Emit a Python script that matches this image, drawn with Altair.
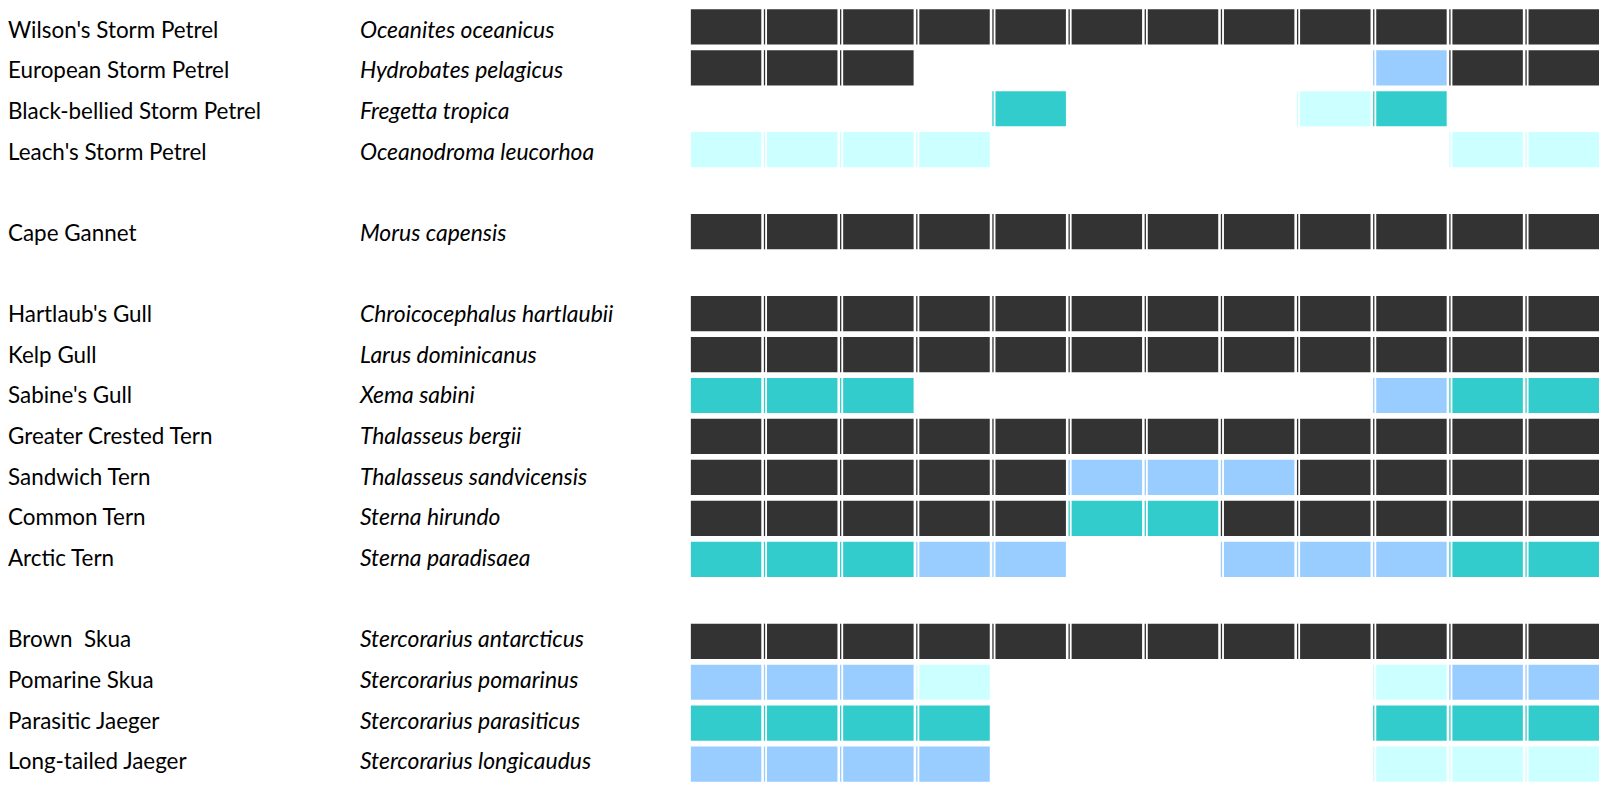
import altair as alt
import pandas as pd

months = ["Jan", "Feb", "Mar", "Apr", "May", "Jun", "Jul", "Aug", "Sep", "Oct", "Nov", "Dec"]

common_names = [
    "Wilson's Storm Petrel", "European Storm Petrel", "Black-bellied Storm Petrel",
    "Leach's Storm Petrel", "Cape Gannet", "Hartlaub's Gull", "Kelp Gull",
    "Sabine's Gull", "Greater Crested Tern", "Sandwich Tern", "Common Tern",
    "Arctic Tern", "Brown\u00a0 Skua", "Pomarine Skua", "Parasitic Jaeger", "Long-tailed Jaeger",
]
scientific_names = [
    "Oceanites oceanicus", "Hydrobates pelagicus", "Fregetta tropica",
    "Oceanodroma leucorhoa", "Morus capensis", "Chroicocephalus hartlaubii",
    "Larus dominicanus", "Xema sabini", "Thalasseus bergii", "Thalasseus sandvicensis",
    "Sterna hirundo", "Sterna paradisaea", "Stercorarius antarcticus",
    "Stercorarius pomarinus", "Stercorarius parasiticus", "Stercorarius longicaudus",
]
# group each species belongs to (a blank row separates groups)
groups = [1, 1, 1, 1, 2, 3, 3, 3, 3, 3, 3, 3, 4, 4, 4, 4]

# monthly status per species: D = dark, T = teal, B = blue, C = pale cyan, . = absent
status = [
    "DDDDDDDDDDDD",
    "DDD......BDD",
    "....T...CT..",
    "CCCC......CC",
    "DDDDDDDDDDDD",
    "DDDDDDDDDDDD",
    "DDDDDDDDDDDD",
    "TTT......BTT",
    "DDDDDDDDDDDD",
    "DDDDDBBBDDDD",
    "DDDDDTTDDDDD",
    "TTTBB..BBBTT",
    "DDDDDDDDDDDD",
    "BBBC.....CBB",
    "TTTT.....TTT",
    "BBBB.....CCC",
]
status_codes = ["D", "T", "B", "C"]
status_colors = ["#333333", "#33CCCC", "#99CCFF", "#CCFFFF"]

# row order with blank spacer rows between groups
row_domain = []
prev = None
blank = 0
for name, g in zip(common_names, groups):
    if prev is not None and g != prev:
        blank += 1
        row_domain.append(" " * blank)
    row_domain.append(name)
    prev = g

names_df = pd.DataFrame({"common": common_names, "sci": scientific_names})
cells = []
for name, codes in zip(common_names, status):
    for i, (m, c) in enumerate(zip(months, codes)):
        if c != ".":
            cells.append({"common": name, "month": m, "mi": i + 1, "code": c})
cells_df = pd.DataFrame(cells)

H = 775
PAD_Y = 0.14
step_y = H / (len(row_domain) - PAD_Y)
cell_h = step_y * (1 - PAD_Y)

yscale = alt.Scale(domain=row_domain, paddingInner=PAD_Y, paddingOuter=0)
ycode = alt.Y("common:N", scale=yscale, axis=None)

FONT = "Lato"

names_panel = alt.Chart(names_df).mark_text(
    align="left", baseline="middle", dy=1, font=FONT, fontSize=22.5, color="#000000"
).encode(x=alt.value(0), y=ycode, text="common:N").properties(width=353, height=H)

sci_panel = alt.Chart(names_df).mark_text(
    align="left", baseline="middle", dy=1, font=FONT, fontSize=23, fontStyle="italic", color="#000000"
).encode(x=alt.value(0), y=ycode, text="sci:N").properties(width=332, height=H)

xscale = alt.Scale(domain=months, paddingInner=0.075, paddingOuter=0)
color = alt.Color("code:N", scale=alt.Scale(domain=status_codes, range=status_colors), legend=None)

base = alt.Chart(cells_df)
rects = base.mark_rect().encode(
    x=alt.X("month:N", scale=xscale, axis=None),
    y=ycode,
    color=color,
)
seps = base.transform_filter(alt.datum.mi > 1).mark_tick(
    orient="vertical", thickness=1.3, size=cell_h, xOffset=-2.5
).encode(
    x=alt.X("month:N", scale=xscale, axis=None, bandPosition=0),
    y=ycode,
    color=color,
)
grid_panel = alt.layer(rects, seps).properties(width=911, height=H)

chart = alt.hconcat(names_panel, sci_panel, grid_panel, spacing=0, bounds="flush").properties(
    padding={"left": 0, "top": 0, "right": 0, "bottom": 0}
).configure_view(strokeWidth=0).configure_tick(opacity=1)

chart.save("out.html", embed_options={"renderer": "svg", "actions": False})
